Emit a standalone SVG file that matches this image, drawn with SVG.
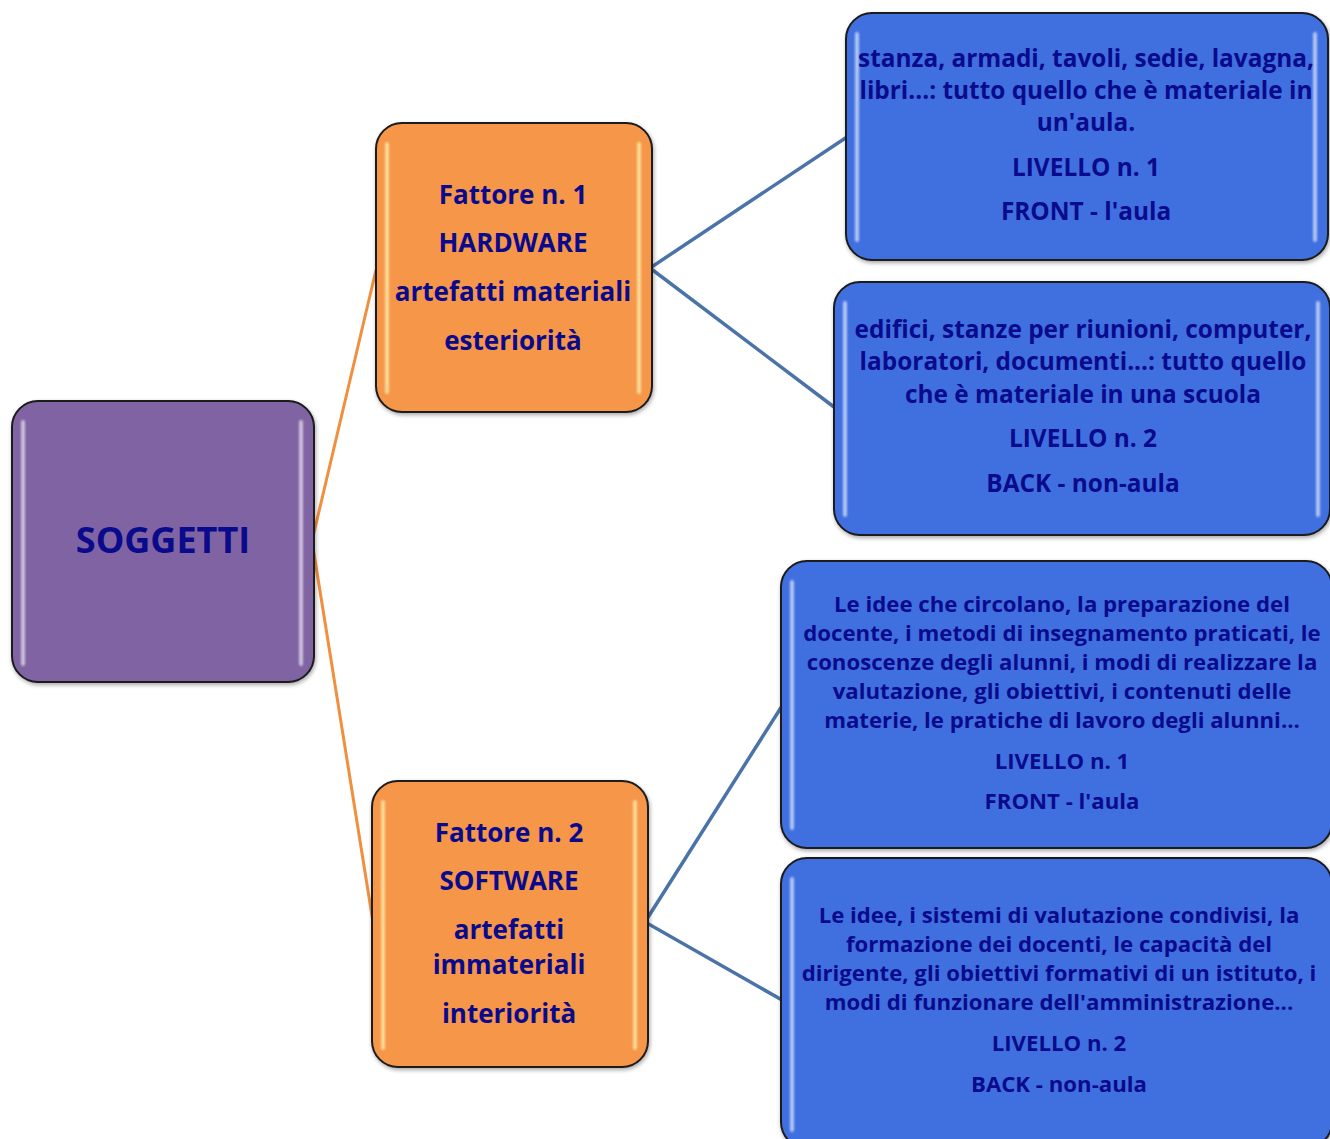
<svg xmlns="http://www.w3.org/2000/svg" width="1330" height="1139" viewBox="0 0 1330 1139">
  <defs>
    <filter id="shadow" x="-10%" y="-10%" width="120%" height="120%">
      <feGaussianBlur in="SourceAlpha" stdDeviation="2"/>
      <feOffset dx="1" dy="2"/>
      <feComponentTransfer><feFuncA type="linear" slope="0.35"/></feComponentTransfer>
      <feMerge><feMergeNode/><feMergeNode in="SourceGraphic"/></feMerge>
    </filter>
    <filter id="soft" x="-50%" y="-5%" width="200%" height="110%">
      <feGaussianBlur stdDeviation="1.2"/>
    </filter>
  </defs>
  <style>
    .box { stroke: #1a1a1a; stroke-width: 2; filter: url(#shadow); }
    .purple { fill: #8064A2; }
    .orange { fill: #F5964A; }
    .blue { fill: #4170E0; }
    .hl { fill: #ffffff; opacity: 0.6; filter: url(#soft); }
    .hlo { fill: #FFF2B0; opacity: 0.75; filter: url(#soft); }
    text { font-family: "Open Sans", "Noto Sans", "Liberation Sans", sans-serif; font-weight: bold; fill: #0A0A8C; text-anchor: middle; font-variant-ligatures: none; }
    .t36 { font-size: 36px; }
    .t28 { font-size: 26px; }
    .t25 { font-size: 24.4px; }
    .t22 { font-size: 22.2px; }
    .c-or { stroke: #F0903E; stroke-width: 3; fill: none; }
    .c-bl { stroke: #4A73A8; stroke-width: 3.5; fill: none; }
  </style>

  <!-- connectors -->
  <g id="connectors">
    <path class="c-or" d="M376,270 L312,541 L373,922"/>
    <path class="c-bl" d="M847,137 L650,268 L834,407"/>
    <path class="c-bl" d="M782,706 L645,922 L782,1000"/>
  </g>

  <!-- root -->
  <g id="soggetti">
    <rect class="box purple" x="12" y="401" width="302" height="281" rx="26"/>
    <rect class="hl" x="21" y="420" width="4" height="246" rx="2"/>
    <rect class="hl" x="299" y="420" width="4" height="246" rx="2"/>
    <text class="t36" x="163" y="553">SOGGETTI</text>
  </g>

  <!-- first factor -->
  <g id="fattore1">
    <rect class="box orange" x="376" y="123" width="276" height="289" rx="26"/>
    <rect class="hlo" x="385" y="142" width="4" height="252" rx="2"/>
    <rect class="hlo" x="637" y="142" width="4" height="252" rx="2"/>
    <text class="t28" x="513" y="204">Fattore n. 1</text>
    <text class="t28" x="513" y="252">HARDWARE</text>
    <text class="t28" x="513" y="301">artefatti materiali</text>
    <text class="t28" x="513" y="350">esteriorità</text>
  </g>

  <!-- second factor -->
  <g id="fattore2">
    <rect class="box orange" x="372" y="781" width="276" height="286" rx="26"/>
    <rect class="hlo" x="381" y="800" width="4" height="250" rx="2"/>
    <rect class="hlo" x="633" y="800" width="4" height="250" rx="2"/>
    <text class="t28" x="509" y="842">Fattore n. 2</text>
    <text class="t28" x="509" y="890">SOFTWARE</text>
    <text class="t28" x="509" y="939">artefatti</text>
    <text class="t28" x="509" y="974">immateriali</text>
    <text class="t28" x="509" y="1023">interiorità</text>
  </g>

  <!-- hardware, level 1 -->
  <g id="hw-front">
    <rect class="box blue" x="846" y="13" width="482" height="247" rx="26"/>
    <rect class="hl" x="855" y="32" width="4" height="210" rx="2"/>
    <rect class="hl" x="1313" y="32" width="4" height="210" rx="2"/>
    <text class="t25" x="1086" y="67">stanza, armadi, tavoli, sedie, lavagna,</text>
    <text class="t25" x="1086" y="99">libri...: tutto quello che è materiale in</text>
    <text class="t25" x="1086" y="131">un'aula.</text>
    <text class="t25" x="1086" y="176">LIVELLO n. 1</text>
    <text class="t25" x="1086" y="220">FRONT - l'aula</text>
  </g>

  <!-- hardware, level 2 -->
  <g id="hw-back">
    <rect class="box blue" x="834" y="282" width="496" height="253" rx="26"/>
    <rect class="hl" x="843" y="301" width="4" height="216" rx="2"/>
    <rect class="hl" x="1316" y="301" width="4" height="216" rx="2"/>
    <text class="t25" x="1083" y="338">edifici, stanze per riunioni, computer,</text>
    <text class="t25" x="1083" y="370">laboratori, documenti...: tutto quello</text>
    <text class="t25" x="1083" y="403">che è materiale in una scuola</text>
    <text class="t25" x="1083" y="447">LIVELLO n. 2</text>
    <text class="t25" x="1083" y="492">BACK - non-aula</text>
  </g>

  <!-- software, level 1 -->
  <g id="sw-front">
    <rect class="box blue" x="781" y="561" width="551" height="287" rx="26"/>
    <rect class="hl" x="790" y="580" width="4" height="250" rx="2"/>
    <text class="t22" x="1062" y="612">Le idee che circolano, la preparazione del</text>
    <text class="t22" x="1062" y="641">docente, i metodi di insegnamento praticati, le</text>
    <text class="t22" x="1062" y="670">conoscenze degli alunni, i modi di realizzare la</text>
    <text class="t22" x="1062" y="699">valutazione, gli obiettivi, i contenuti delle</text>
    <text class="t22" x="1062" y="728">materie, le pratiche di lavoro degli alunni...</text>
    <text class="t22" x="1062" y="769">LIVELLO n. 1</text>
    <text class="t22" x="1062" y="809">FRONT - l'aula</text>
  </g>

  <!-- software, level 2 -->
  <g id="sw-back">
    <rect class="box blue" x="781" y="858" width="551" height="290" rx="26"/>
    <rect class="hl" x="790" y="877" width="4" height="255" rx="2"/>
    <text class="t22" x="1059" y="923">Le idee, i sistemi di valutazione condivisi, la</text>
    <text class="t22" x="1059" y="952">formazione dei docenti, le capacità del</text>
    <text class="t22" x="1059" y="981">dirigente, gli obiettivi formativi di un istituto, i</text>
    <text class="t22" x="1059" y="1010">modi di funzionare dell'amministrazione...</text>
    <text class="t22" x="1059" y="1051">LIVELLO n. 2</text>
    <text class="t22" x="1059" y="1092">BACK - non-aula</text>
  </g>
</svg>
